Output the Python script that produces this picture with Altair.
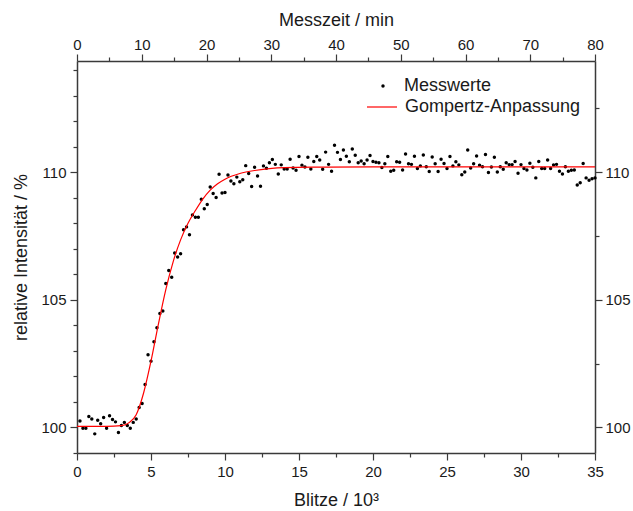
import altair as alt
import pandas as pd

# ---- data -------------------------------------------------------------
BLITZE_START = 0.2      # first sample (10^3 flashes)
BLITZE_STEP = 0.2       # sampling interval (10^3 flashes)

intensity = [
    100.25, 99.97, 99.97, 100.43, 100.33, 99.75, 100.28, 100.15, 100.39, 99.97,
    100.46, 100.31, 100.22, 99.80, 100.08, 100.20, 100.08, 99.97, 100.20, 100.33,
    100.78, 100.94, 101.68, 102.85, 102.60, 103.36, 103.91, 104.47, 104.56, 105.64,
    106.15, 105.89, 106.84, 106.68, 106.81, 107.75, 107.86, 107.55, 108.33, 108.24,
    108.24, 108.94, 108.57, 108.74, 109.42, 109.17, 109.01, 109.92, 109.19, 109.21,
    109.89, 109.66, 109.55, 109.81, 109.63, 109.71, 110.26, 109.95, 109.44, 110.20,
    109.85, 109.45, 110.25, 110.16, 110.37, 110.50, 110.31, 109.93, 110.29, 110.13,
    110.13, 110.51, 110.17, 110.08, 110.62, 110.28, 110.21, 110.59, 110.13, 110.42,
    110.62, 110.48, 110.12, 110.79, 110.31, 110.04, 111.06, 110.78, 110.50, 110.87,
    110.63, 110.41, 110.91, 110.67, 110.37, 110.44, 110.33, 110.48, 110.66, 110.42,
    110.39, 110.37, 110.19, 110.33, 110.62, 110.04, 110.08, 110.41, 110.39, 110.09,
    110.72, 110.33, 110.31, 110.63, 110.15, 110.25, 110.68, 110.22, 110.03, 110.60,
    110.33, 110.03, 110.51, 110.34, 110.15, 110.62, 110.25, 110.41, 110.29, 109.90,
    110.01, 110.87, 110.17, 110.33, 110.64, 110.28, 110.22, 110.70, 109.99, 110.21,
    110.59, 110.01, 110.22, 110.12, 110.37, 110.30, 110.30, 110.42, 109.96, 110.30,
    110.15, 110.09, 110.35, 110.20, 109.78, 110.42, 110.15, 110.15, 110.48, 110.15,
    110.29, 110.31, 110.04, 109.93, 110.22, 110.04, 110.08, 110.09, 109.50, 109.59,
    110.34, 109.78, 109.69, 109.75, 109.78,
]
blitze = [round(BLITZE_START + i * BLITZE_STEP, 1) for i in range(len(intensity))]

# Gompertz fit curve
fit_x = [0, 2, 3, 3.5, 4.0, 4.5, 5.0, 5.5, 6.0, 6.5, 7.0, 7.5, 8.0, 8.5, 9.0,
         9.5, 10, 11, 12, 13, 14, 16, 20, 35]
fit_y = [100.04, 100.04, 100.07, 100.18, 100.5, 101.35, 102.6, 104.05, 105.4, 106.5,
         107.35, 108.0, 108.5, 108.95, 109.3, 109.55, 109.73, 109.95, 110.07, 110.14,
         110.18, 110.2, 110.21, 110.21]

series_names = ["Messwerte", "Gompertz-Anpassung"]

x_domain = [0, 35]
t_domain = [0, 80]
y_domain = [99, 114.36]

x_ticks = [0, 2.5, 5, 7.5, 10, 12.5, 15, 17.5, 20, 22.5, 25, 27.5, 30, 32.5, 35]
t_ticks = [0, 5, 10, 15, 20, 25, 30, 35, 40, 45, 50, 55, 60, 65, 70, 75, 80]
y_left_ticks = [99, 100, 101, 102, 103, 104, 105, 106, 107, 108, 109, 110, 111, 112, 113, 114]
y_right_ticks = [100, 102.5, 105, 107.5, 110, 112.5]

# ---- styling ------------------------------------------------------------
FONT = "Liberation Sans"
AX = "#3a3a3a"


def tick_size(major):
    return {"condition": {"test": f"datum.value % {major} === 0", "value": 7}, "value": 4}


def label_expr(major):
    return f"datum.value % {major} === 0 ? format(datum.value, 'd') : ''"


points_df = pd.DataFrame({"Blitze": blitze, "Intensitaet": intensity, "Reihe": series_names[0]})
fit_df = pd.DataFrame({"Blitze": fit_x, "Intensitaet": fit_y, "Reihe": series_names[1]})
frame_df = pd.DataFrame({"Messzeit": t_domain, "Intensitaet": y_domain})

x_scale = alt.Scale(domain=x_domain, nice=False, zero=False)
y_scale = alt.Scale(domain=y_domain, nice=False, zero=False)

points = alt.Chart(points_df).mark_point(filled=True, size=12, opacity=1).encode(
    x=alt.X("Blitze:Q", scale=x_scale,
            axis=alt.Axis(orient="bottom", title="Blitze / 10³", values=x_ticks,
                          labelExpr=label_expr(5), tickSize=tick_size(5),
                          labelPadding=4, titlePadding=12)),
    y=alt.Y("Intensitaet:Q", scale=y_scale,
            axis=alt.Axis(orient="left", title="relative Intensität / %", values=y_left_ticks,
                          labelExpr=label_expr(5), tickSize=tick_size(5),
                          labelPadding=4, titlePadding=10)),
    fill=alt.Fill("Reihe:N", scale=alt.Scale(domain=[series_names[0]], range=["black"]),
                  legend=alt.Legend(title=None, orient="none", legendX=297, legendY=16,
                                    symbolType="circle", symbolSize=12, labelOffset=12,
                                    padding=0)),
)

fit = alt.Chart(fit_df).mark_line(strokeWidth=1.2, interpolate="monotone").encode(
    x=alt.X("Blitze:Q", scale=x_scale, axis=None),
    y=alt.Y("Intensitaet:Q", scale=y_scale, axis=None),
    stroke=alt.Stroke("Reihe:N", scale=alt.Scale(domain=[series_names[1]], range=["#ff0000"]),
                      legend=alt.Legend(title=None, orient="none", legendX=289, legendY=30,
                                        symbolType="stroke", symbolSize=900,
                                        symbolStrokeWidth=1.2, labelOffset=7, padding=0)),
)

frame = alt.Chart(frame_df).mark_point(opacity=0).encode(
    x=alt.X("Messzeit:Q", scale=alt.Scale(domain=t_domain, nice=False, zero=False),
            axis=alt.Axis(orient="top", title="Messzeit / min", values=t_ticks,
                          labelExpr=label_expr(10), tickSize=tick_size(10),
                          labelPadding=2, titlePadding=8)),
    y=alt.Y("Intensitaet:Q", scale=alt.Scale(domain=y_domain, nice=False, zero=False),
            axis=alt.Axis(orient="right", title=None, values=y_right_ticks,
                          labelExpr=label_expr(5), tickSize=tick_size(5),
                          labelPadding=3)),
)

chart = (
    alt.layer(points, fit, frame)
    .resolve_scale(x="independent", y="independent")
    .properties(width=518, height=392,
                autosize=alt.AutoSizeParams(type="none"),
                padding={"left": 77, "top": 61, "right": 38, "bottom": 58})
    .configure_view(stroke=None)
    .configure_axis(grid=False, domainColor=AX, domainWidth=1.5, tickColor=AX, tickWidth=1.2,
                    labelFont=FONT, labelFontSize=15, labelColor="#1a1a1a",
                    titleFont=FONT, titleFontSize=18, titleFontWeight="normal",
                    titleColor="#1a1a1a", labelOverlap=False, labelFlush=False)
    .configure_legend(labelFont=FONT, labelFontSize=18, labelColor="#1a1a1a", labelLimit=400)
)

chart.save("out.html", embed_options={"renderer": "svg", "actions": False})
